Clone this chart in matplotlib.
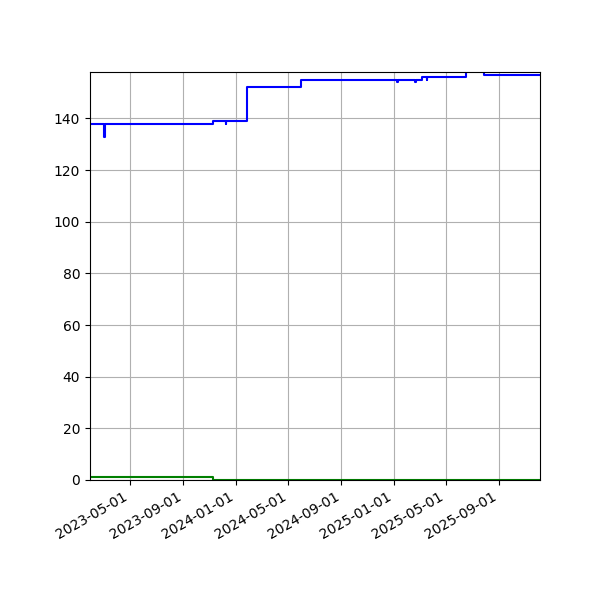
import numpy as np
import matplotlib
matplotlib.use("Agg")
import matplotlib.pyplot as plt
import matplotlib.dates as mdates
import pandas as pd

# Точки изменения синей линии (ступенчатая)
blue_dates = ["2023-01-28", "2023-03-02", "2023-03-03", "2023-11-09", "2023-12-08",
              "2023-12-09", "2024-01-26", "2024-05-31", "2025-01-09", "2025-01-10",
              "2025-02-19", "2025-02-20", "2025-03-06", "2025-03-18", "2025-03-19",
              "2025-06-16", "2025-07-29", "2025-12-05"]
blue_values = [138, 133, 138, 139, 138, 139, 152, 155, 154, 155,
               154, 155, 156, 155, 156, 160, 157, 157]

# Зеленая линия
green_dates = ["2023-01-28", "2023-11-09", "2025-12-05"]
green_values = [1, 0, 0]

x_start = "2023-01-28"
x_end = "2025-12-05"

fig, ax = plt.subplots(figsize=(6, 6), dpi=100)

ax.plot(pd.to_datetime(green_dates), green_values, color="green", drawstyle="steps-post")
ax.plot(pd.to_datetime(blue_dates), blue_values, color="blue", drawstyle="steps-post")

ax.xaxis.set_major_locator(mdates.MonthLocator(bymonth=[1, 5, 9]))
ax.xaxis.set_major_formatter(mdates.DateFormatter("%Y-%m-%d"))
ax.set_xlim(pd.Timestamp(x_start), pd.Timestamp(x_end))
ax.set_ylim(0, 158)
ax.grid(True)

fig.autofmt_xdate()
fig.subplots_adjust(left=0.15, right=0.9, top=0.88, bottom=0.2)

plt.savefig("out.png")
